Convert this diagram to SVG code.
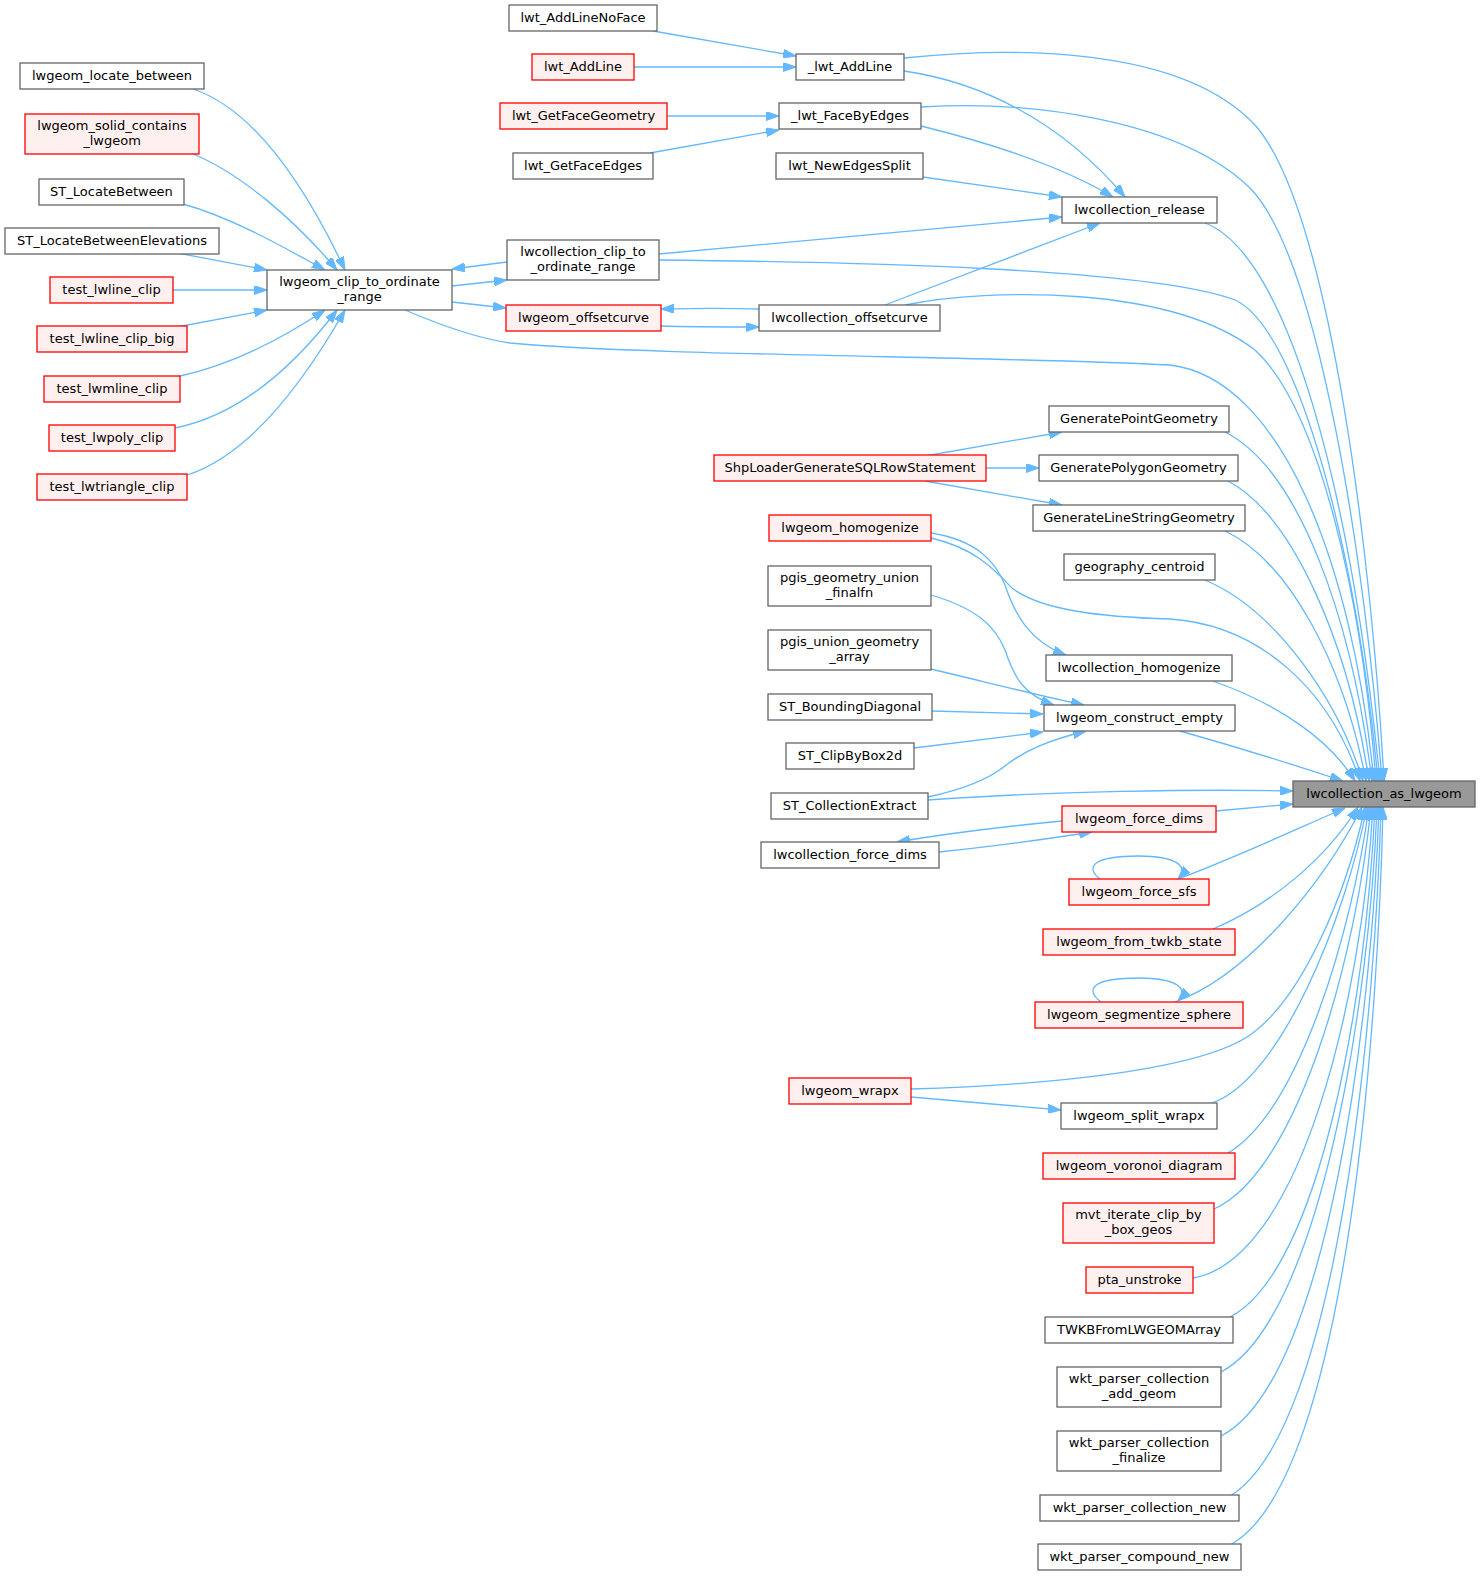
<svg xmlns="http://www.w3.org/2000/svg" width="1480" height="1576" viewBox="0 0 1480 1576">
<style>
text{font-family:"DejaVu Sans","Liberation Sans",sans-serif;font-size:13px;text-anchor:middle;fill:#000}
.n rect{fill:#fff;stroke:#666;stroke-width:1.3}
.r rect{fill:#fff0f0;stroke:#f00;stroke-width:1.3}
.m rect{fill:#999;stroke:#666;stroke-width:1.3}
#edges path{fill:none;stroke:#63b8ff;stroke-width:1.3;marker-end:url(#a)}
</style>
<defs>
<marker id="a" markerWidth="13" markerHeight="9" refX="13" refY="4.5" orient="auto" markerUnits="userSpaceOnUse" viewBox="0 0 13 9"><path d="M0,0 L13,4.5 L0,9 z" fill="#63b8ff" stroke="#63b8ff" stroke-width="1"/></marker>
</defs>
<rect width="1480" height="1576" fill="#fff"/>
<g id="edges">
<path d="M193,89 C250,108 300,175 345,270"/>
<path d="M193,154 C240,173 295,220 337,270"/>
<path d="M183,204 C230,217 280,245 325,270"/>
<path d="M177,253 L267,270"/>
<path d="M173,290 L267,290"/>
<path d="M177,327 L267,310"/>
<path d="M180,376 C230,365 280,340 325,310"/>
<path d="M175,428 C240,415 295,365 337,310"/>
<path d="M187,475 C250,455 305,380 345,310"/>
<path d="M507,262 L452,269"/>
<path d="M452,286 L507,280"/>
<path d="M452,302 L506,308"/>
<path d="M759,309 C730,308 700,308 661,309"/>
<path d="M661,326 C690,327 720,327 759,327"/>
<path d="M885,305 L1100,223"/>
<path d="M659,254 L1062,217"/>
<path d="M923,177 L1062,197"/>
<path d="M904,71 C980,82 1060,120 1125,197"/>
<path d="M921,126 C990,143 1060,165 1113,197"/>
<path d="M653,31 L796,56"/>
<path d="M634,67 L796,67"/>
<path d="M667,116 L779,116"/>
<path d="M650,153 L779,130"/>
<path d="M925,456 L1062,432"/>
<path d="M986,468 L1039,468"/>
<path d="M925,481 L1062,505"/>
<path d="M931,533 C975,540 995,560 1005,585 C1015,615 1030,642 1066,655"/>
<path d="M931,595 C975,608 995,625 1005,650 C1015,680 1025,695 1054,705"/>
<path d="M931,669 C990,683 1040,696 1084,705"/>
<path d="M932,711 L1043,714"/>
<path d="M914,748 L1043,732"/>
<path d="M928,797 C965,789 990,778 1005,766 C1025,750 1050,740 1086,731"/>
<path d="M1062,821 C1010,826 950,833 897,842"/>
<path d="M939,852 C990,847 1040,840 1092,832"/>
<path d="M1101,880 C1083,866 1095,856 1139,856 C1175,856 1190,866 1178,879"/>
<path d="M1101,1002 C1083,988 1095,978 1139,978 C1175,978 1190,988 1178,1001"/>
<path d="M911,1097 L1061,1110"/>
<path d="M904,58 C1010,47 1180,45 1255,125 C1330,210 1372,560 1384,781"/>
<path d="M921,107 C1030,100 1180,120 1250,188 C1320,260 1366,570 1382,781"/>
<path d="M1205,223 C1290,255 1352,500 1380,781"/>
<path d="M659,260 C850,262 1150,268 1235,300 C1300,330 1358,560 1378,781"/>
<path d="M905,305 C990,288 1170,285 1255,350 C1320,410 1362,600 1376,781"/>
<path d="M405,310 C440,325 475,338 510,343 C650,356 1000,356 1170,365 C1280,378 1352,560 1374,781"/>
<path d="M1225,432 C1300,470 1352,620 1372,781"/>
<path d="M1228,481 C1292,515 1348,640 1369,781"/>
<path d="M1225,531 C1287,560 1343,660 1366,781"/>
<path d="M1205,580 C1276,610 1338,700 1363,781"/>
<path d="M931,538 C975,548 995,570 1012,588 C1040,610 1100,617 1170,619 C1260,625 1330,690 1360,781"/>
<path d="M1213,681 C1280,705 1330,740 1355,781"/>
<path d="M1180,731 C1240,748 1295,765 1343,781"/>
<path d="M928,800 C1050,791 1200,789 1293,791"/>
<path d="M1216,811 L1293,804"/>
<path d="M1175,880 C1230,860 1290,832 1345,808"/>
<path d="M1213,929 C1270,905 1325,860 1358,807"/>
<path d="M1175,1002 C1250,975 1325,880 1362,807"/>
<path d="M911,1089 C1050,1085 1200,1070 1250,1035 C1300,1000 1345,900 1365,807"/>
<path d="M1212,1103 C1280,1080 1345,920 1367,807"/>
<path d="M1228,1153 C1300,1110 1352,930 1369,807"/>
<path d="M1214,1209 C1300,1170 1357,950 1371,807"/>
<path d="M1193,1278 C1300,1260 1362,1000 1373,807"/>
<path d="M1230,1317 C1320,1270 1366,1000 1375,807"/>
<path d="M1221,1372 C1320,1320 1370,1000 1377,807"/>
<path d="M1221,1436 C1330,1380 1373,1000 1379,807"/>
<path d="M1230,1496 C1340,1430 1376,1000 1381,807"/>
<path d="M1230,1545 C1350,1480 1379,1000 1383,807"/>
</g>
<g id="lwcollection_as_lwgeom" class="m"><rect x="1293" y="781" width="182" height="26"/><text x="1384" y="798">lwcollection_as_lwgeom</text></g>
<g id="lwgeom_locate_between" class="n"><rect x="20" y="63" width="184" height="26"/><text x="112" y="80">lwgeom_locate_between</text></g>
<g id="lwgeom_solid_contains_lwgeom" class="r"><rect x="25" y="114" width="174" height="40"/><text x="112" y="129.5">lwgeom_solid_contains</text><text x="112" y="144.5">_lwgeom</text></g>
<g id="ST_LocateBetween" class="n"><rect x="39" y="179" width="145" height="26"/><text x="111.5" y="196">ST_LocateBetween</text></g>
<g id="ST_LocateBetweenElevations" class="n"><rect x="5" y="228" width="214" height="26"/><text x="112" y="245">ST_LocateBetweenElevations</text></g>
<g id="test_lwline_clip" class="r"><rect x="50" y="277" width="123" height="26"/><text x="111.5" y="294">test_lwline_clip</text></g>
<g id="test_lwline_clip_big" class="r"><rect x="37" y="326" width="150" height="26"/><text x="112" y="343">test_lwline_clip_big</text></g>
<g id="test_lwmline_clip" class="r"><rect x="44" y="376" width="136" height="26"/><text x="112" y="393">test_lwmline_clip</text></g>
<g id="test_lwpoly_clip" class="r"><rect x="49" y="425" width="126" height="26"/><text x="112" y="442">test_lwpoly_clip</text></g>
<g id="test_lwtriangle_clip" class="r"><rect x="37" y="474" width="150" height="26"/><text x="112" y="491">test_lwtriangle_clip</text></g>
<g id="lwgeom_clip_to_ordinate_range" class="n"><rect x="267" y="270" width="185" height="40"/><text x="359.5" y="285.5">lwgeom_clip_to_ordinate</text><text x="359.5" y="300.5">_range</text></g>
<g id="lwt_AddLineNoFace" class="n"><rect x="509" y="5" width="148" height="26"/><text x="583" y="22">lwt_AddLineNoFace</text></g>
<g id="lwt_AddLine" class="r"><rect x="532" y="54" width="102" height="26"/><text x="583" y="71">lwt_AddLine</text></g>
<g id="lwt_GetFaceGeometry" class="r"><rect x="500" y="103" width="167" height="26"/><text x="583.5" y="120">lwt_GetFaceGeometry</text></g>
<g id="lwt_GetFaceEdges" class="n"><rect x="513" y="153" width="140" height="26"/><text x="583" y="170">lwt_GetFaceEdges</text></g>
<g id="lwcollection_clip_to_ordinate_range" class="n"><rect x="507" y="240" width="152" height="40"/><text x="583" y="255.5">lwcollection_clip_to</text><text x="583" y="270.5">_ordinate_range</text></g>
<g id="lwgeom_offsetcurve" class="r"><rect x="506" y="305" width="155" height="26"/><text x="583.5" y="322">lwgeom_offsetcurve</text></g>
<g id="_lwt_AddLine" class="n"><rect x="796" y="54" width="108" height="26"/><text x="850" y="71">_lwt_AddLine</text></g>
<g id="_lwt_FaceByEdges" class="n"><rect x="779" y="103" width="142" height="26"/><text x="850" y="120">_lwt_FaceByEdges</text></g>
<g id="lwt_NewEdgesSplit" class="n"><rect x="776" y="153" width="147" height="26"/><text x="849.5" y="170">lwt_NewEdgesSplit</text></g>
<g id="lwcollection_offsetcurve" class="n"><rect x="759" y="305" width="181" height="26"/><text x="849.5" y="322">lwcollection_offsetcurve</text></g>
<g id="ShpLoaderGenerateSQLRowStatement" class="r"><rect x="714" y="455" width="272" height="26"/><text x="850" y="472">ShpLoaderGenerateSQLRowStatement</text></g>
<g id="lwgeom_homogenize" class="r"><rect x="769" y="515" width="162" height="26"/><text x="850" y="532">lwgeom_homogenize</text></g>
<g id="pgis_geometry_union_finalfn" class="n"><rect x="768" y="566" width="163" height="40"/><text x="849.5" y="581.5">pgis_geometry_union</text><text x="849.5" y="596.5">_finalfn</text></g>
<g id="pgis_union_geometry_array" class="n"><rect x="768" y="630" width="163" height="40"/><text x="849.5" y="645.5">pgis_union_geometry</text><text x="849.5" y="660.5">_array</text></g>
<g id="ST_BoundingDiagonal" class="n"><rect x="768" y="694" width="164" height="26"/><text x="850" y="711">ST_BoundingDiagonal</text></g>
<g id="ST_ClipByBox2d" class="n"><rect x="786" y="743" width="128" height="26"/><text x="850" y="760">ST_ClipByBox2d</text></g>
<g id="ST_CollectionExtract" class="n"><rect x="771" y="793" width="157" height="26"/><text x="849.5" y="810">ST_CollectionExtract</text></g>
<g id="lwcollection_force_dims" class="n"><rect x="761" y="842" width="178" height="26"/><text x="850" y="859">lwcollection_force_dims</text></g>
<g id="lwgeom_wrapx" class="r"><rect x="789" y="1078" width="122" height="26"/><text x="850" y="1095">lwgeom_wrapx</text></g>
<g id="lwcollection_release" class="n"><rect x="1062" y="197" width="155" height="26"/><text x="1139.5" y="214">lwcollection_release</text></g>
<g id="GeneratePointGeometry" class="n"><rect x="1049" y="406" width="180" height="26"/><text x="1139" y="423">GeneratePointGeometry</text></g>
<g id="GeneratePolygonGeometry" class="n"><rect x="1039" y="455" width="199" height="26"/><text x="1138.5" y="472">GeneratePolygonGeometry</text></g>
<g id="GenerateLineStringGeometry" class="n"><rect x="1033" y="505" width="212" height="26"/><text x="1139" y="522">GenerateLineStringGeometry</text></g>
<g id="geography_centroid" class="n"><rect x="1064" y="554" width="151" height="26"/><text x="1139.5" y="571">geography_centroid</text></g>
<g id="lwcollection_homogenize" class="n"><rect x="1046" y="655" width="186" height="26"/><text x="1139" y="672">lwcollection_homogenize</text></g>
<g id="lwgeom_construct_empty" class="n"><rect x="1044" y="705" width="191" height="26"/><text x="1139.5" y="722">lwgeom_construct_empty</text></g>
<g id="lwgeom_force_dims" class="r"><rect x="1062" y="806" width="154" height="26"/><text x="1139" y="823">lwgeom_force_dims</text></g>
<g id="lwgeom_force_sfs" class="r"><rect x="1069" y="879" width="140" height="26"/><text x="1139" y="896">lwgeom_force_sfs</text></g>
<g id="lwgeom_from_twkb_state" class="r"><rect x="1043" y="929" width="192" height="26"/><text x="1139" y="946">lwgeom_from_twkb_state</text></g>
<g id="lwgeom_segmentize_sphere" class="r"><rect x="1035" y="1002" width="208" height="26"/><text x="1139" y="1019">lwgeom_segmentize_sphere</text></g>
<g id="lwgeom_split_wrapx" class="n"><rect x="1061" y="1103" width="156" height="26"/><text x="1139" y="1120">lwgeom_split_wrapx</text></g>
<g id="lwgeom_voronoi_diagram" class="r"><rect x="1043" y="1153" width="192" height="26"/><text x="1139" y="1170">lwgeom_voronoi_diagram</text></g>
<g id="mvt_iterate_clip_by_box_geos" class="r"><rect x="1063" y="1203" width="151" height="40"/><text x="1138.5" y="1218.5">mvt_iterate_clip_by</text><text x="1138.5" y="1233.5">_box_geos</text></g>
<g id="pta_unstroke" class="r"><rect x="1086" y="1267" width="107" height="26"/><text x="1139.5" y="1284">pta_unstroke</text></g>
<g id="TWKBFromLWGEOMArray" class="n"><rect x="1045" y="1317" width="188" height="26"/><text x="1139" y="1334">TWKBFromLWGEOMArray</text></g>
<g id="wkt_parser_collection_add_geom" class="n"><rect x="1057" y="1367" width="164" height="40"/><text x="1139" y="1382.5">wkt_parser_collection</text><text x="1139" y="1397.5">_add_geom</text></g>
<g id="wkt_parser_collection_finalize" class="n"><rect x="1057" y="1431" width="164" height="40"/><text x="1139" y="1446.5">wkt_parser_collection</text><text x="1139" y="1461.5">_finalize</text></g>
<g id="wkt_parser_collection_new" class="n"><rect x="1040" y="1495" width="199" height="26"/><text x="1139.5" y="1512">wkt_parser_collection_new</text></g>
<g id="wkt_parser_compound_new" class="n"><rect x="1038" y="1544" width="203" height="26"/><text x="1139.5" y="1561">wkt_parser_compound_new</text></g>
</svg>
